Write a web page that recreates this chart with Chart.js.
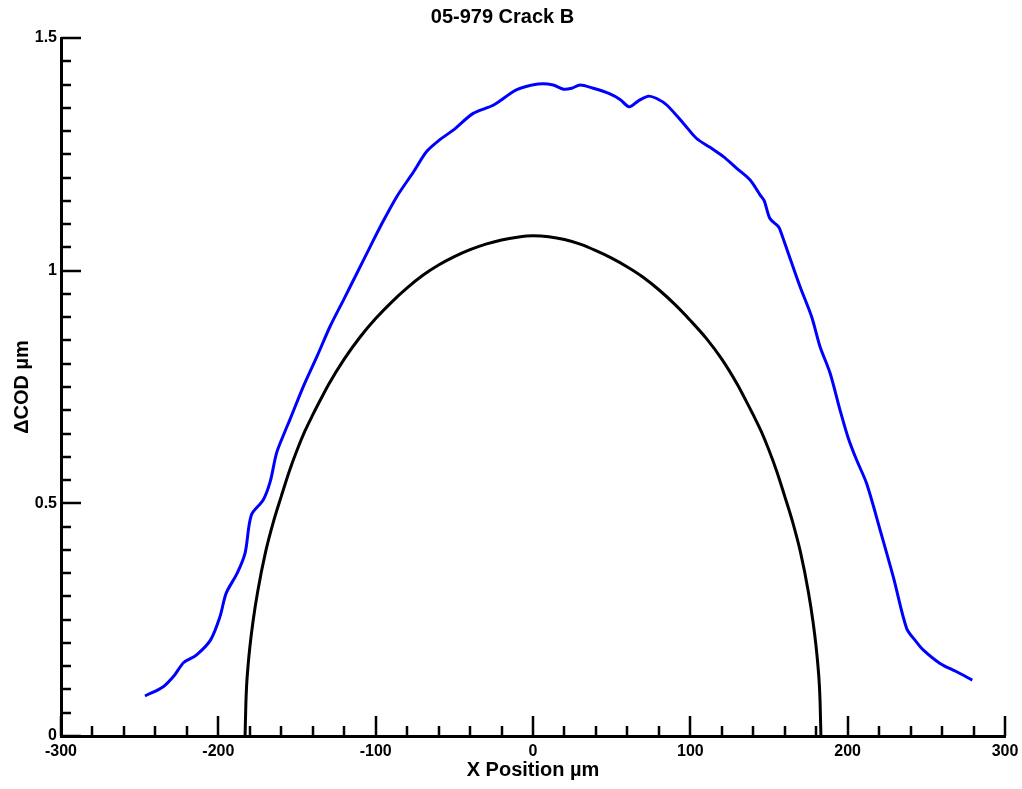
<!DOCTYPE html>
<html>
<head>
<meta charset="utf-8">
<title>05-979 Crack B</title>
<script src="https://cdn.jsdelivr.net/npm/chart.js@4/dist/chart.umd.min.js"></script>
<style>
  html, body { margin: 0; padding: 0; background: #fff; }
  #wrap { width: 1022px; height: 789px; }
</style>
</head>
<body>
<div id="wrap"><canvas id="codChart" width="1022" height="789"></canvas></div>
<script>
// data (x in um, delta COD in um)
const measuredX = [-246.6, -235, -228, -222, -214, -205, -199, -195, -188, -183, -179, -171.5, -167, -163,
  -157.6, -154.5, -146, -137, -129, -120, -112, -104, -97, -86.6, -76, -67.6, -59, -50.7, -38, -25, -12.5, -8, 3.4, 12.9, 19.3, 24.6,
  29.9, 38.3, 48.9, 55.3, 61.2, 67, 73.3, 78.6, 85, 95.5, 104, 112.5, 121, 129.5, 138, 144.3, 147, 150.6,
  155.9, 157, 162.3, 169.7, 177.1, 182.4, 188.8, 195.1, 200.4, 205.7, 212, 220.6, 229, 237.5, 243, 248, 258.7,
  269.3, 279.2];
const measuredCOD = [0.086, 0.106, 0.13, 0.158, 0.174, 0.206, 0.256, 0.307, 0.35, 0.393, 0.475, 0.507, 0.547, 0.608,
  0.655, 0.680, 0.751, 0.818, 0.880, 0.940, 0.994, 1.048, 1.095, 1.159, 1.212, 1.256, 1.282, 1.302, 1.338, 1.356, 1.385, 1.392, 1.401, 1.399, 1.390, 1.392,
  1.399, 1.392, 1.380, 1.368, 1.352, 1.365, 1.375, 1.370, 1.356, 1.317, 1.284, 1.265, 1.245, 1.220, 1.195, 1.163, 1.150, 1.112,
  1.095, 1.088, 1.037, 0.966, 0.901, 0.837, 0.780, 0.701, 0.640, 0.593, 0.543, 0.443, 0.342, 0.231, 0.205, 0.185, 0.156,
  0.138, 0.120];

const modelX = [-183, -182.5, -182, -181, -180, -178, -175, -170, -165, -160, -155, -150, -145, -140, -135, -130, -120, -110,
  -100, -90, -80, -70, -60, -50, -40, -30, -20, -10, 0, 10, 20, 30, 40, 50, 60, 70, 80, 90, 100, 110, 120, 130,
  135, 140, 145, 150, 155, 160, 165, 170, 175, 178, 180, 181, 182, 182.5, 183];
const modelCOD = [0, 0.07, 0.11, 0.155, 0.19, 0.245, 0.31, 0.395, 0.46, 0.515, 0.568, 0.614, 0.655, 0.69, 0.723, 0.755, 0.81, 0.857,
  0.897, 0.932, 0.963, 0.99, 1.012, 1.03, 1.045, 1.057, 1.066, 1.072, 1.075, 1.073, 1.067, 1.057, 1.043, 1.027, 1.008, 0.986, 0.959, 0.928, 0.893, 0.855, 0.81, 0.755,
  0.723, 0.69, 0.655, 0.614, 0.568, 0.515, 0.46, 0.395, 0.31, 0.245, 0.19, 0.155, 0.11, 0.07, 0];

const xTickValues = [-300, -200, -100, 0, 100, 200, 300];
const yTickValues = [0, 0.5, 1, 1.5];
const xMinorStep = 20;
const yMinorStep = 0.05;

const FONT = '"Liberation Sans", Arial, Helvetica, sans-serif';

function toPoints(xs, ys) {
  return xs.map((v, i) => ({x: v, y: ys[i]}));
}

// inward tick marks, major and minor, placed through the scales
const tickMarks = {
  id: 'tickMarks',
  beforeDatasetsDraw(chart) {
    const {ctx, chartArea, scales: {x, y}} = chart;
    ctx.save();
    ctx.strokeStyle = '#000';
    ctx.lineWidth = 2.5;
    ctx.beginPath();
    const xn = Math.round((x.max - x.min) / xMinorStep);
    for (let i = 0; i <= xn; i++) {
      const v = x.min + i * xMinorStep;
      const px = Math.round(x.getPixelForValue(v));
      const len = xTickValues.includes(v) ? 20 : 10;
      ctx.moveTo(px, chartArea.bottom);
      ctx.lineTo(px, chartArea.bottom - len);
    }
    const yn = Math.round((y.max - y.min) / yMinorStep);
    for (let i = 0; i <= yn; i++) {
      const v = y.min + i * yMinorStep;
      const py = Math.round(y.getPixelForValue(v));
      const len = (i % 10 === 0) ? 20 : 10;
      ctx.moveTo(chartArea.left, py);
      ctx.lineTo(chartArea.left + len, py);
    }
    ctx.stroke();
    ctx.restore();
  }
};

Chart.defaults.color = '#000';
Chart.defaults.font.family = FONT;

const config = {
  type: 'scatter',
  data: {
    datasets: [
      {
        label: 'Measured',
        data: toPoints(measuredX, measuredCOD),
        showLine: true,
        borderColor: '#0000ff',
        borderWidth: 3,
        pointRadius: 0,
        tension: 0.3
      },
      {
        label: 'Model',
        data: toPoints(modelX, modelCOD),
        showLine: true,
        borderColor: '#000000',
        borderWidth: 3,
        pointRadius: 0,
        cubicInterpolationMode: 'monotone'
      }
    ]
  },
  options: {
    responsive: false,
    animation: false,
    devicePixelRatio: 1,
    layout: { padding: { left: 0, right: 17, top: 0, bottom: 0 } },
    plugins: {
      legend: { display: false },
      tooltip: { enabled: false },
      title: {
        display: true,
        text: '05-979 Crack B',
        color: '#000',
        font: { size: 20, weight: 'bold', family: FONT },
        padding: { top: 5, bottom: 9 }
      }
    },
    scales: {
      x: {
        type: 'linear',
        min: -300,
        max: 300,
        grid: { display: false, drawTicks: false },
        border: { display: true, color: '#000', width: 3 },
        afterBuildTicks: (scale) => { scale.ticks = xTickValues.map(v => ({value: v})); },
        afterFit: (scale) => {
          scale.height = 53;
          scale.paddingLeft = 0;
          scale.paddingRight = 0;
        },
        ticks: {
          padding: 6,
          maxRotation: 0,
          font: { size: 16, weight: 'bold' },
          callback: (v) => String(v)
        },
        title: {
          display: true,
          text: 'X Position µm',
          font: { size: 20, weight: 'bold' },
          padding: { top: 0, bottom: 7 }
        }
      },
      y: {
        type: 'linear',
        min: 0,
        max: 1.5,
        grid: { display: false, drawTicks: false },
        border: { display: true, color: '#000', width: 3 },
        afterBuildTicks: (scale) => { scale.ticks = yTickValues.map(v => ({value: v})); },
        afterFit: (scale) => { scale.width = 61; },
        ticks: {
          padding: 4,
          font: { size: 16, weight: 'bold' },
          callback: (v) => String(v)
        },
        title: {
          display: true,
          text: 'ΔCOD µm',
          font: { size: 20, weight: 'bold' },
          padding: { top: 10, bottom: 0 }
        }
      }
    }
  },
  plugins: [tickMarks]
};

const codChart = new Chart(document.getElementById('codChart'), config);
</script>
</body>
</html>
